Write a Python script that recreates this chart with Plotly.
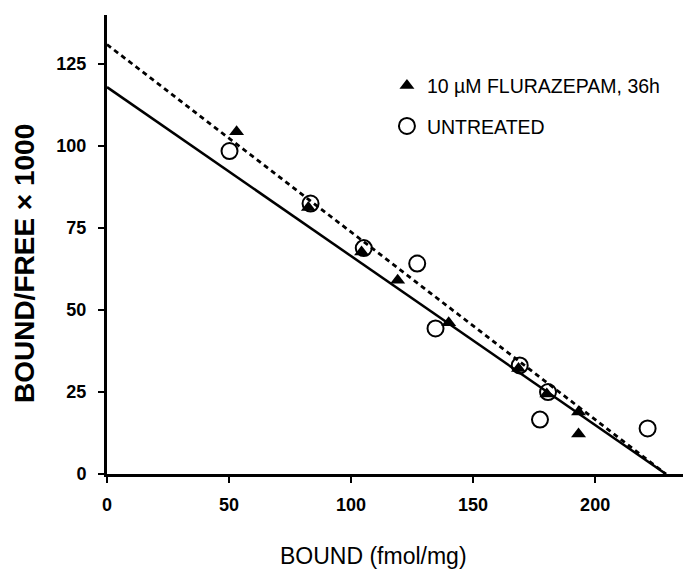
import plotly.graph_objects as go

# Data (Scatchard plot)
flur_bound = [53.1, 82.5, 104.3, 119.1, 140.0, 168.6, 180.2, 193.2, 193.2]
flur_ratio = [104.4, 81.3, 67.7, 59.1, 46.1, 32.2, 24.4, 18.9, 12.2]
untr_bound = [50.2, 83.4, 105.2, 127.1, 134.6, 169.1, 180.7, 177.4, 221.5]
untr_ratio = [98.5, 82.5, 68.9, 64.2, 44.4, 33.1, 25.0, 16.6, 13.9]

series_names = ["10 \u00b5M FLURAZEPAM, 36h", "UNTREATED"]
fit_y_intercepts = [118.0, 131.0]   # solid (flurazepam), dashed (untreated)
fit_x_intercepts = [229.0, 229.0]

x_ticks = [0, 50, 100, 150, 200]
y_ticks = [0, 25, 50, 75, 100, 125]
x_title = "BOUND (fmol/mg)"
y_title = "BOUND/FREE \u00d7 1000"

fig = go.Figure()

# regression lines
fig.add_trace(go.Scatter(x=[0, fit_x_intercepts[0]], y=[fit_y_intercepts[0], 0],
                         mode="lines", line=dict(color="black", width=2.5),
                         showlegend=False, hoverinfo="skip"))
fig.add_trace(go.Scatter(x=[0, fit_x_intercepts[1]], y=[fit_y_intercepts[1], 0],
                         mode="lines", line=dict(color="black", width=2.8, dash="5px,4px"),
                         showlegend=False, hoverinfo="skip"))

fig.add_trace(go.Scatter(x=flur_bound, y=flur_ratio, mode="markers", name=series_names[0],
                         legendgroup="a",
                         marker=dict(symbol="triangle-up", size=13, color="black",
                                     line=dict(width=0))))
fig.add_trace(go.Scatter(x=untr_bound, y=untr_ratio, mode="markers", name=series_names[1],
                         legendgroup="b",
                         marker=dict(symbol="circle-open", size=16, color="black",
                                     line=dict(width=2, color="black"))))

tickfont = dict(family="Liberation Sans, Arial", size=18, color="black", weight="bold")

fig.update_layout(
    width=683, height=571,
    margin=dict(l=107, r=0, t=15, b=97),
    paper_bgcolor="white", plot_bgcolor="white",
    font=dict(family="Liberation Sans, Arial", color="black"),
    legend=dict(x=0.486, y=0.888, xanchor="left", yanchor="top",
                font=dict(family="Liberation Sans, Arial", size=19.5, color="black"),
                traceorder="grouped", tracegroupgap=12, bgcolor="rgba(0,0,0,0)"),
    xaxis=dict(range=[0, 236], tickvals=x_ticks, showgrid=False, zeroline=False,
               showline=True, linecolor="black", linewidth=3,
               ticks="outside", ticklen=6, tickwidth=2, tickcolor="black",
               tickfont=tickfont, ticklabelstandoff=6),
    yaxis=dict(range=[0, 140], tickvals=y_ticks, showgrid=False, zeroline=False,
               showline=True, linecolor="black", linewidth=3,
               ticks="outside", ticklen=6, tickwidth=2, tickcolor="black",
               tickfont=tickfont, ticklabelstandoff=8),
    annotations=[
        dict(text=x_title, xref="paper", yref="paper", x=0.462, y=-0.178,
             xanchor="center", yanchor="middle", showarrow=False,
             font=dict(family="Liberation Sans, Arial", size=23, color="black")),
        dict(text=y_title, xref="paper", yref="paper", x=-0.144, y=0.4575,
             xanchor="center", yanchor="middle", showarrow=False, textangle=-90,
             font=dict(family="Liberation Sans, Arial", size=28, color="black",
                       weight="bold")),
    ],
)

fig.write_html("out.html")
